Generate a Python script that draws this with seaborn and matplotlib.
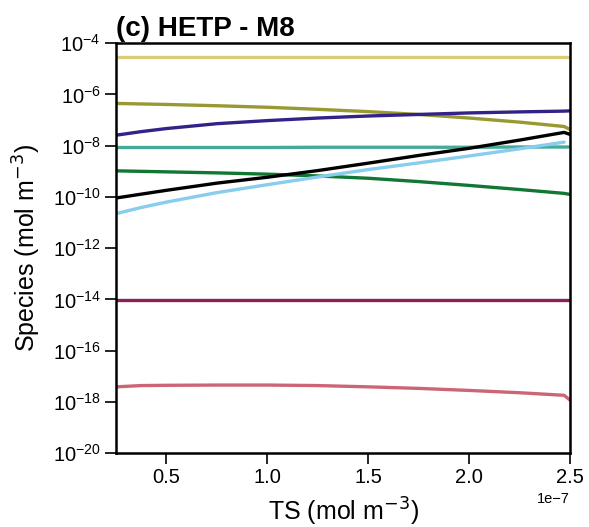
import numpy as np
import pandas as pd
import matplotlib
matplotlib.use("Agg")
import matplotlib.pyplot as plt
import seaborn as sns

# x grid (TS, mol m^-3)
ts = np.array([0.25, 0.375, 0.5, 0.75, 1.0, 1.25, 1.5, 1.75, 2.0, 2.25, 2.47, 2.5]) * 1e-7

# log10 of species concentration
log_sand = [-4.55] * 12
log_olive = [-6.35, -6.37, -6.39, -6.44, -6.50, -6.58, -6.67, -6.78, -6.92, -7.08, -7.25, -7.37]
log_indigo = [-7.59, -7.45, -7.33, -7.14, -7.02, -6.92, -6.84, -6.78, -6.72, -6.68, -6.65, -6.64]
log_teal = [-8.07, -8.07, -8.07, -8.07, -8.07, -8.06, -8.06, -8.06, -8.06, -8.05, -8.05, -8.05]
log_green = [-8.98, -9.00, -9.02, -9.06, -9.11, -9.18, -9.27, -9.40, -9.55, -9.71, -9.86, -9.90]
log_black = [-10.04, -9.89, -9.74, -9.46, -9.23, -8.97, -8.68, -8.38, -8.10, -7.78, -7.48, -7.56]
log_sky = [-10.65, -10.41, -10.20, -9.83, -9.52, -9.22, -8.93, -8.67, -8.40, -8.12, -7.86, np.nan]
log_wine = [-14.02] * 12
log_rose = [-17.41, -17.36, -17.35, -17.34, -17.34, -17.36, -17.41, -17.47, -17.55, -17.64, -17.74, -17.93]

series = {
    "sand": (log_sand, "#DDCC77"),
    "olive": (log_olive, "#999933"),
    "indigo": (log_indigo, "#332288"),
    "teal": (log_teal, "#44AA99"),
    "green": (log_green, "#117733"),
    "black": (log_black, "#000000"),
    "sky": (log_sky, "#88CCEE"),
    "wine": (log_wine, "#882255"),
    "rose": (log_rose, "#CC6677"),
}

rows = []
for name, (vals, _) in series.items():
    for x, v in zip(ts, vals):
        if not np.isnan(v):
            rows.append({"TS": x, "conc": 10.0 ** v, "species": name})
df = pd.DataFrame(rows)
palette = {name: c for name, (_, c) in series.items()}

sns.set_style("white")
plt.rcParams['font.family'] = ['Liberation Sans', 'DejaVu Sans']
plt.rcParams['text.color'] = 'black'
plt.rcParams['axes.labelcolor'] = 'black'
plt.rcParams['xtick.color'] = 'black'
plt.rcParams['ytick.color'] = 'black'

fig = plt.figure(figsize=(5.89, 5.27), dpi=100)
ax = fig.add_axes([0.197, 0.140, 0.771, 0.778])

sns.lineplot(data=df, x="TS", y="conc", hue="species", palette=palette,
             linewidth=2.4, legend=False, ax=ax, estimator=None, sort=False)

ax.set_yscale("log")
ax.set_ylim(1e-20, 1e-4)
ax.set_xlim(0.25e-7, 2.5e-7)
ax.set_yticks([10.0 ** k for k in range(-20, -3, 2)])
ax.yaxis.set_minor_locator(matplotlib.ticker.NullLocator())
ax.set_xticks([0.5e-7, 1.0e-7, 1.5e-7, 2.0e-7, 2.5e-7])

ax.tick_params(axis="both", which="major", direction="out", length=8, width=1.2,
               labelsize=14.5, left=True, bottom=True, top=False, right=False, pad=3)
ax.xaxis.get_offset_text().set_fontsize(10.5)

for sp in ax.spines.values():
    sp.set_linewidth(1.8)
    sp.set_color("black")

ax.set_xlabel("TS (mol m$^{-3}$)", fontsize=18, labelpad=6)
ax.set_ylabel("Species (mol m$^{-3}$)", fontsize=18, labelpad=7)
ax.set_title("(c) HETP - M8", loc="left", fontsize=20, fontweight="bold", pad=5)

fig.savefig("out.png", dpi=100)
